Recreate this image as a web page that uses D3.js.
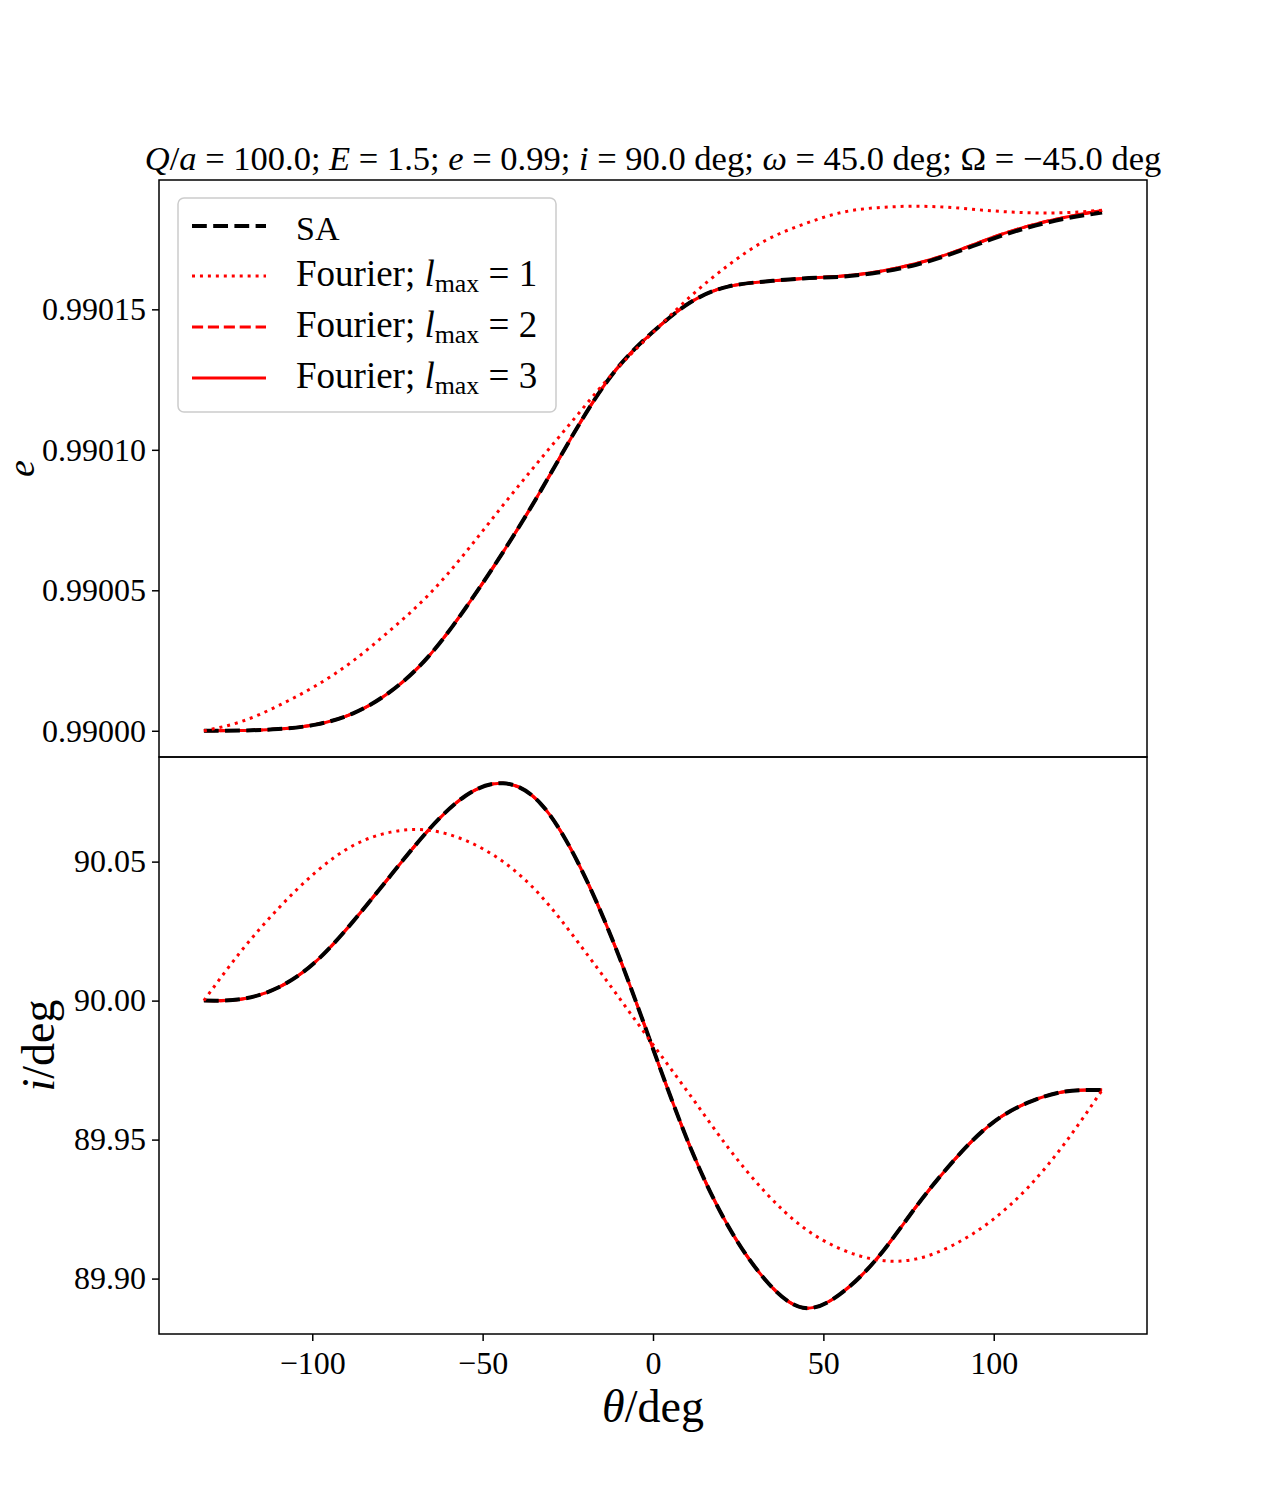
<!DOCTYPE html>
<html>
<head>
<meta charset="utf-8">
<script src="https://cdn.jsdelivr.net/npm/d3@7"></script>
<style>
  body { margin: 0; background: #fff; }
  svg text { font-family: "Liberation Serif", "DejaVu Serif", serif; fill: #000; }
</style>
</head>
<body>
<div id="chart"></div>
<script>
// true anomaly samples (deg)
const thetaDeg = [-131.8, -121, -110, -99, -88, -77, -66, -55, -44, -33, -22, -11, 0,
                  11, 22, 33, 44, 55, 66, 77, 88, 99, 110, 121, 131.8];

// eccentricity
const eSA = [0.9900000, 0.9900001, 0.9900006, 0.9900022, 0.9900062, 0.9900140, 0.9900263, 0.9900437,
             0.9900636, 0.9900853, 0.9901084, 0.9901283, 0.9901420, 0.9901525, 0.9901581, 0.9901599,
             0.9901610, 0.9901616, 0.9901631, 0.9901658, 0.9901699, 0.9901748, 0.9901791, 0.9901823, 0.9901845];
const eF1 = [0.9900000, 0.9900032, 0.9900089, 0.9900160, 0.9900249, 0.9900359, 0.9900482, 0.9900635,
             0.9900803, 0.9900967, 0.9901127, 0.9901283, 0.9901418, 0.9901546, 0.9901656, 0.9901745,
             0.9901802, 0.9901844, 0.9901862, 0.9901867, 0.9901862, 0.9901851, 0.9901844, 0.9901844, 0.9901853];
const eF2 = [0.9900000, 0.9900001, 0.9900006, 0.9900022, 0.9900062, 0.9900140, 0.9900263, 0.9900437,
             0.9900636, 0.9900853, 0.9901084, 0.9901283, 0.9901420, 0.9901525, 0.9901581, 0.9901599,
             0.9901610, 0.9901618, 0.9901634, 0.9901662, 0.9901703, 0.9901753, 0.9901796, 0.9901828, 0.9901852];
const eF3 = [0.9900000, 0.9900001, 0.9900006, 0.9900022, 0.9900062, 0.9900140, 0.9900263, 0.9900437,
             0.9900636, 0.9900853, 0.9901084, 0.9901283, 0.9901420, 0.9901525, 0.9901581, 0.9901599,
             0.9901610, 0.9901618, 0.9901634, 0.9901662, 0.9901703, 0.9901753, 0.9901796, 0.9901828, 0.9901852];

// inclination (deg)
const incSA = [90.0000, 90.0005, 90.0047, 90.0140, 90.0285, 90.0450, 90.0612, 90.0737, 90.0782, 90.0709,
               90.0496, 90.0191, 89.9827, 89.9471, 89.9190, 89.8995, 89.8895, 89.8945, 89.9076, 89.9255,
               89.9421, 89.9554, 89.9633, 89.9673, 89.9678];
const incF1 = [90.0000, 90.0176, 90.0331, 90.0462, 90.0558, 90.0606, 90.0613, 90.0576, 90.0500, 90.0378,
               90.0210, 90.0028, 89.9842, 89.9658, 89.9472, 89.9310, 89.9185, 89.9107, 89.9067, 89.9070,
               89.9120, 89.9205, 89.9327, 89.9489, 89.9678];
const incF2 = [90.0000, 90.0005, 90.0047, 90.0140, 90.0285, 90.0450, 90.0612, 90.0737, 90.0782, 90.0709,
               90.0496, 90.0191, 89.9827, 89.9471, 89.9190, 89.8995, 89.8895, 89.8945, 89.9076, 89.9255,
               89.9421, 89.9554, 89.9633, 89.9673, 89.9678];
const incF3 = [90.0000, 90.0005, 90.0047, 90.0140, 90.0285, 90.0450, 90.0612, 90.0737, 90.0782, 90.0709,
               90.0496, 90.0191, 89.9827, 89.9471, 89.9190, 89.8995, 89.8895, 89.8945, 89.9076, 89.9255,
               89.9421, 89.9554, 89.9633, 89.9673, 89.9678];

const eTicks = [0.99000, 0.99005, 0.99010, 0.99015];
const incTicks = [89.90, 89.95, 90.00, 90.05];
const thetaTicks = [-100, -50, 0, 50, 100];
const seriesKeys = ["SA", "F1", "F2", "F3"];
const lmaxValues = [1, 2, 3];

// line styles (matplotlib-like dashes scaled by linewidth)
const styles = {
  SA: {color: "#000000", width: 4, dash: "14.8,6.4"},
  F1: {color: "#ff0000", width: 3, dash: "3,4.95"},
  F2: {color: "#ff0000", width: 3, dash: "11.1,4.8"},
  F3: {color: "#ff0000", width: 3, dash: null}
};

const W = 1275, H = 1500;
const pLeft = 159, pRight = 1147, pTop = 180, pMid = 757, pBottom = 1334;
const fontTick = 32;

const svg = d3.select("#chart").append("svg")
  .attr("width", W).attr("height", H)
  .style("background", "#fff");

// pad a data extent by 5% like matplotlib
function padded(ext) {
  const m = (ext[1] - ext[0]) * 0.05;
  return [ext[0] - m, ext[1] + m];
}

const x = d3.scaleLinear().domain(padded(d3.extent(thetaDeg))).range([pLeft, pRight]);
const yTop = d3.scaleLinear()
  .domain(padded(d3.extent([...eSA, ...eF1, ...eF2, ...eF3])))
  .range([pMid, pTop]);
const yBot = d3.scaleLinear()
  .domain(padded(d3.extent([...incSA, ...incF1, ...incF2, ...incF3])))
  .range([pBottom, pMid]);

const topSeries = {SA: eSA, F1: eF1, F2: eF2, F3: eF3};
const botSeries = {SA: incSA, F1: incF1, F2: incF2, F3: incF3};

function drawCurves(series, y) {
  const line = d3.line()
    .x((d, i) => x(thetaDeg[i]))
    .y(d => y(d))
    .curve(d3.curveNatural);
  // red ones first, black dashed on top, dotted last
  ["F3", "F2", "SA", "F1"].forEach(k => {
    const s = styles[k];
    svg.append("path")
      .datum(series[k])
      .attr("d", line)
      .attr("fill", "none")
      .attr("stroke", s.color)
      .attr("stroke-width", s.width)
      .attr("stroke-dasharray", s.dash)
      .attr("stroke-linejoin", "round");
  });
}

drawCurves(topSeries, yTop);
drawCurves(botSeries, yBot);

// y axes
const axTop = svg.append("g")
  .attr("transform", `translate(${pLeft},0)`)
  .call(d3.axisLeft(yTop).tickValues(eTicks).tickFormat(d3.format(".5f")).tickSize(7).tickPadding(6));
const axBot = svg.append("g")
  .attr("transform", `translate(${pLeft},0)`)
  .call(d3.axisLeft(yBot).tickValues(incTicks).tickFormat(d3.format(".2f")).tickSize(7).tickPadding(6));
const axX = svg.append("g")
  .attr("transform", `translate(0,${pBottom})`)
  .call(d3.axisBottom(x).tickValues(thetaTicks).tickFormat(d3.format("d")).tickSize(7).tickPadding(10));

[axTop, axBot, axX].forEach(g => {
  g.select(".domain").remove();
  g.selectAll(".tick line").attr("stroke", "#000").attr("stroke-width", 1.5);
  g.selectAll(".tick text")
    .style("font-size", fontTick + "px")
    .style("font-family", '"Liberation Serif", serif')
    .attr("fill", "#000");
});

// frames
[[pTop, pMid], [pMid, pBottom]].forEach(([a, b]) => {
  svg.append("rect")
    .attr("x", pLeft).attr("y", a)
    .attr("width", pRight - pLeft).attr("height", b - a)
    .attr("fill", "none").attr("stroke", "#000").attr("stroke-width", 1.5);
});

// helper for mixed italic / roman text
function richText(sel, parts) {
  parts.forEach(p => {
    const t = sel.append("tspan").text(p[0]);
    if (p[1] === "i") t.style("font-style", "italic");
    if (p[1] === "sub") t.style("font-size", "0.7em").attr("dy", "0.22em");
    if (p[1] === "unsub") t.attr("dy", "-0.154em");
  });
  return sel;
}

// title, fitted to the width of the original
const title = svg.append("text")
  .attr("x", (pLeft + pRight) / 2).attr("y", 170)
  .attr("text-anchor", "middle")
  .style("font-size", "30px");
richText(title, [["Q", "i"], ["/", ""], ["a", "i"], [" = 100.0; ", ""], ["E", "i"], [" = 1.5; ", ""],
  ["e", "i"], [" = 0.99; ", ""], ["i", "i"], [" = 90.0 deg; ", ""], ["ω", "i"], [" = 45.0 deg; ", ""],
  ["Ω", ""], [" = −45.0 deg", ""]]);
const tw = title.node().getComputedTextLength();
title.style("font-size", Math.min(36, 30 * 1017 / tw) + "px");

// axis labels
richText(svg.append("text")
  .attr("transform", `translate(34,${(pTop + pMid) / 2}) rotate(-90)`)
  .attr("text-anchor", "middle")
  .style("font-size", "38px"), [["e", "i"]]);
richText(svg.append("text")
  .attr("transform", `translate(54,${(pMid + pBottom) / 2}) rotate(-90)`)
  .attr("text-anchor", "middle")
  .style("font-size", "46px"), [["i", "i"], ["/deg", ""]]);
richText(svg.append("text")
  .attr("x", (pLeft + pRight) / 2).attr("y", 1422)
  .attr("text-anchor", "middle")
  .style("font-size", "46px"), [["θ", "i"], ["/deg", ""]]);

// legend
const leg = svg.append("g");
leg.append("rect")
  .attr("x", 178).attr("y", 198).attr("width", 378).attr("height", 214).attr("rx", 6)
  .attr("fill", "#fff").attr("fill-opacity", 0.8)
  .attr("stroke", "#cccccc").attr("stroke-width", 1.5);
const rowLine = [226, 276, 327, 378];
const rowBase = [240, 286, 337, 388];
seriesKeys.forEach((k, i) => {
  const s = styles[k];
  leg.append("line")
    .attr("x1", 192).attr("x2", 266).attr("y1", rowLine[i]).attr("y2", rowLine[i])
    .attr("stroke", s.color).attr("stroke-width", s.width).attr("stroke-dasharray", s.dash);
  const t = leg.append("text").attr("x", 296).attr("y", rowBase[i]).style("font-size", "34px");
  if (k === "SA") {
    richText(t, [["SA", ""]]);
  } else {
    richText(t, [["Fourier; ", ""], ["l", "i"], ["max", "sub"], [" = " + lmaxValues[i - 1], "unsub"]]);
    const w = t.node().getComputedTextLength();
    t.style("font-size", Math.min(37, 34 * 245 / w) + "px");
  }
});
</script>
</body>
</html>
